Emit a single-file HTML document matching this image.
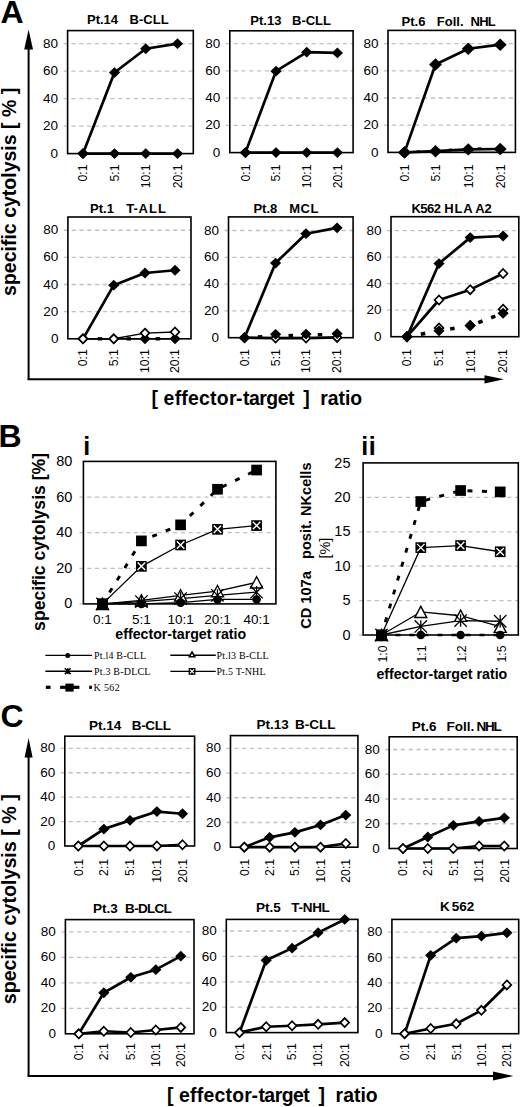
<!DOCTYPE html><html><head><meta charset="utf-8"><style>html,body{margin:0;padding:0;background:#fff;}svg{display:block;}text{white-space:pre;}</style></head><body>
<svg width="520" height="1107" viewBox="0 0 520 1107">
<rect width="520" height="1107" fill="#fff"/>
<text x="0.5" y="22.8" font-size="32" font-weight="bold" text-anchor="start" font-family='"Liberation Sans", sans-serif'>A</text>
<line x1="63.60" y1="126.12" x2="193.3" y2="126.12" stroke="#c0c0c0" stroke-width="1.3" stroke-dasharray="4.2 3.6"/>
<line x1="63.60" y1="98.64" x2="193.3" y2="98.64" stroke="#c0c0c0" stroke-width="1.3" stroke-dasharray="4.2 3.6"/>
<line x1="63.60" y1="71.16" x2="193.3" y2="71.16" stroke="#c0c0c0" stroke-width="1.3" stroke-dasharray="4.2 3.6"/>
<line x1="63.60" y1="43.68" x2="193.3" y2="43.68" stroke="#c0c0c0" stroke-width="1.3" stroke-dasharray="4.2 3.6"/>
<rect x="67.6" y="30.6" width="125.70000000000002" height="123.0" fill="none" stroke="#000" stroke-width="1.6"/>
<text x="58.10" y="157.70" font-size="13.5" font-weight="normal" text-anchor="end" font-family='"Liberation Sans", sans-serif'>0</text>
<text x="58.10" y="130.22" font-size="13.5" font-weight="normal" text-anchor="end" font-family='"Liberation Sans", sans-serif'>20</text>
<text x="58.10" y="102.74" font-size="13.5" font-weight="normal" text-anchor="end" font-family='"Liberation Sans", sans-serif'>40</text>
<text x="58.10" y="75.26" font-size="13.5" font-weight="normal" text-anchor="end" font-family='"Liberation Sans", sans-serif'>60</text>
<text x="58.10" y="47.78" font-size="13.5" font-weight="normal" text-anchor="end" font-family='"Liberation Sans", sans-serif'>80</text>
<polyline points="83.00,153.60 114.50,153.60 145.75,153.60 177.50,153.60" fill="none" stroke="#000" stroke-width="2.7" stroke-linejoin="round"/>
<polyline points="83.00,153.60 114.50,72.53 145.75,48.76 177.50,43.68" fill="none" stroke="#000" stroke-width="2.7" stroke-linejoin="round"/>
<polygon points="83.00,148.20 88.60,153.60 83.00,159.00 77.40,153.60" fill="#000"/>
<polygon points="114.50,148.20 120.10,153.60 114.50,159.00 108.90,153.60" fill="#000"/>
<polygon points="145.75,148.20 151.35,153.60 145.75,159.00 140.15,153.60" fill="#000"/>
<polygon points="177.50,148.20 183.10,153.60 177.50,159.00 171.90,153.60" fill="#000"/>
<polygon points="83.00,148.20 88.60,153.60 83.00,159.00 77.40,153.60" fill="#000"/>
<polygon points="114.50,67.13 120.10,72.53 114.50,77.93 108.90,72.53" fill="#000"/>
<polygon points="145.75,43.36 151.35,48.76 145.75,54.16 140.15,48.76" fill="#000"/>
<polygon points="177.50,38.28 183.10,43.68 177.50,49.08 171.90,43.68" fill="#000"/>
<text x="87.0" y="23.6" font-size="13" font-weight="bold" text-anchor="start" font-family='"Liberation Sans", sans-serif'>Pt.14</text>
<text x="129.6" y="23.6" font-size="13" font-weight="bold" text-anchor="start" font-family='"Liberation Sans", sans-serif'>B-CLL</text>
<text x="87.40" y="164.39999999999998" font-size="12.3" font-weight="normal" text-anchor="end" font-family='"Liberation Sans", sans-serif' transform="rotate(-90 87.40 164.39999999999998)">0:1</text>
<text x="118.90" y="164.39999999999998" font-size="12.3" font-weight="normal" text-anchor="end" font-family='"Liberation Sans", sans-serif' transform="rotate(-90 118.90 164.39999999999998)">5:1</text>
<text x="150.15" y="164.39999999999998" font-size="12.3" font-weight="normal" text-anchor="end" font-family='"Liberation Sans", sans-serif' transform="rotate(-90 150.15 164.39999999999998)">10:1</text>
<text x="181.90" y="164.39999999999998" font-size="12.3" font-weight="normal" text-anchor="end" font-family='"Liberation Sans", sans-serif' transform="rotate(-90 181.90 164.39999999999998)">20:1</text>
<line x1="225.80" y1="125.36" x2="353.1" y2="125.36" stroke="#c0c0c0" stroke-width="1.3" stroke-dasharray="4.2 3.6"/>
<line x1="225.80" y1="98.12" x2="353.1" y2="98.12" stroke="#c0c0c0" stroke-width="1.3" stroke-dasharray="4.2 3.6"/>
<line x1="225.80" y1="70.88" x2="353.1" y2="70.88" stroke="#c0c0c0" stroke-width="1.3" stroke-dasharray="4.2 3.6"/>
<line x1="225.80" y1="43.64" x2="353.1" y2="43.64" stroke="#c0c0c0" stroke-width="1.3" stroke-dasharray="4.2 3.6"/>
<rect x="229.8" y="30.8" width="123.30000000000001" height="121.8" fill="none" stroke="#000" stroke-width="1.6"/>
<text x="220.30" y="156.70" font-size="13.5" font-weight="normal" text-anchor="end" font-family='"Liberation Sans", sans-serif'>0</text>
<text x="220.30" y="129.46" font-size="13.5" font-weight="normal" text-anchor="end" font-family='"Liberation Sans", sans-serif'>20</text>
<text x="220.30" y="102.22" font-size="13.5" font-weight="normal" text-anchor="end" font-family='"Liberation Sans", sans-serif'>40</text>
<text x="220.30" y="74.98" font-size="13.5" font-weight="normal" text-anchor="end" font-family='"Liberation Sans", sans-serif'>60</text>
<text x="220.30" y="47.74" font-size="13.5" font-weight="normal" text-anchor="end" font-family='"Liberation Sans", sans-serif'>80</text>
<polyline points="245.40,152.60 276.00,152.60 306.75,152.60 337.40,152.60" fill="none" stroke="#000" stroke-width="2.7" stroke-linejoin="round"/>
<polyline points="245.40,152.60 276.00,71.15 306.75,52.22 337.40,52.90" fill="none" stroke="#000" stroke-width="2.7" stroke-linejoin="round"/>
<polygon points="245.40,147.20 251.00,152.60 245.40,158.00 239.80,152.60" fill="#000"/>
<polygon points="276.00,147.20 281.60,152.60 276.00,158.00 270.40,152.60" fill="#000"/>
<polygon points="306.75,147.20 312.35,152.60 306.75,158.00 301.15,152.60" fill="#000"/>
<polygon points="337.40,147.20 343.00,152.60 337.40,158.00 331.80,152.60" fill="#000"/>
<polygon points="245.40,147.20 251.00,152.60 245.40,158.00 239.80,152.60" fill="#000"/>
<polygon points="276.00,65.75 281.60,71.15 276.00,76.55 270.40,71.15" fill="#000"/>
<polygon points="306.75,46.82 312.35,52.22 306.75,57.62 301.15,52.22" fill="#000"/>
<polygon points="337.40,47.50 343.00,52.90 337.40,58.30 331.80,52.90" fill="#000"/>
<text x="250.3" y="25.0" font-size="13" font-weight="bold" text-anchor="start" font-family='"Liberation Sans", sans-serif'>Pt.13</text>
<text x="292.0" y="25.0" font-size="13" font-weight="bold" text-anchor="start" font-family='"Liberation Sans", sans-serif'>B-CLL</text>
<text x="249.80" y="164.39999999999998" font-size="12.3" font-weight="normal" text-anchor="end" font-family='"Liberation Sans", sans-serif' transform="rotate(-90 249.80 164.39999999999998)">0:1</text>
<text x="280.40" y="164.39999999999998" font-size="12.3" font-weight="normal" text-anchor="end" font-family='"Liberation Sans", sans-serif' transform="rotate(-90 280.40 164.39999999999998)">5:1</text>
<text x="311.15" y="164.39999999999998" font-size="12.3" font-weight="normal" text-anchor="end" font-family='"Liberation Sans", sans-serif' transform="rotate(-90 311.15 164.39999999999998)">10:1</text>
<text x="341.80" y="164.39999999999998" font-size="12.3" font-weight="normal" text-anchor="end" font-family='"Liberation Sans", sans-serif' transform="rotate(-90 341.80 164.39999999999998)">20:1</text>
<line x1="384.00" y1="125.20" x2="515.4" y2="125.20" stroke="#c0c0c0" stroke-width="1.3" stroke-dasharray="4.2 3.6"/>
<line x1="384.00" y1="98.00" x2="515.4" y2="98.00" stroke="#c0c0c0" stroke-width="1.3" stroke-dasharray="4.2 3.6"/>
<line x1="384.00" y1="70.80" x2="515.4" y2="70.80" stroke="#c0c0c0" stroke-width="1.3" stroke-dasharray="4.2 3.6"/>
<line x1="384.00" y1="43.60" x2="515.4" y2="43.60" stroke="#c0c0c0" stroke-width="1.3" stroke-dasharray="4.2 3.6"/>
<rect x="388" y="30.4" width="127.39999999999998" height="122.0" fill="none" stroke="#000" stroke-width="1.6"/>
<text x="378.50" y="156.50" font-size="13.5" font-weight="normal" text-anchor="end" font-family='"Liberation Sans", sans-serif'>0</text>
<text x="378.50" y="129.30" font-size="13.5" font-weight="normal" text-anchor="end" font-family='"Liberation Sans", sans-serif'>20</text>
<text x="378.50" y="102.10" font-size="13.5" font-weight="normal" text-anchor="end" font-family='"Liberation Sans", sans-serif'>40</text>
<text x="378.50" y="74.90" font-size="13.5" font-weight="normal" text-anchor="end" font-family='"Liberation Sans", sans-serif'>60</text>
<text x="378.50" y="47.70" font-size="13.5" font-weight="normal" text-anchor="end" font-family='"Liberation Sans", sans-serif'>80</text>
<polyline points="404.50,152.40 435.50,152.40 468.25,152.40 500.20,152.40" fill="none" stroke="#000" stroke-width="1.4" stroke-linejoin="round"/>
<line x1="416.70" y1="151.70" x2="420.20" y2="151.50" stroke="#000" stroke-width="2.5"/>
<line x1="448.49" y1="149.93" x2="451.98" y2="149.74" stroke="#000" stroke-width="2.5"/>
<line x1="477.68" y1="148.66" x2="481.18" y2="148.59" stroke="#000" stroke-width="2.5"/>
<polyline points="404.50,152.40 435.50,151.18 468.25,149.41 500.20,149.00" fill="none" stroke="#000" stroke-width="2.7" stroke-linejoin="round"/>
<polyline points="404.50,152.40 435.50,64.54 468.25,48.77 500.20,44.69" fill="none" stroke="#000" stroke-width="2.7" stroke-linejoin="round"/>
<polygon points="404.50,146.19 410.94,152.40 404.50,158.61 398.06,152.40" fill="#000"/>
<polygon points="435.50,144.97 441.94,151.18 435.50,157.39 429.06,151.18" fill="#000"/>
<polygon points="468.25,143.20 474.69,149.41 468.25,155.62 461.81,149.41" fill="#000"/>
<polygon points="500.20,142.79 506.64,149.00 500.20,155.21 493.76,149.00" fill="#000"/>
<polygon points="404.50,146.19 410.94,152.40 404.50,158.61 398.06,152.40" fill="#000"/>
<polygon points="435.50,58.33 441.94,64.54 435.50,70.75 429.06,64.54" fill="#000"/>
<polygon points="468.25,42.56 474.69,48.77 468.25,54.98 461.81,48.77" fill="#000"/>
<polygon points="500.20,38.48 506.64,44.69 500.20,50.90 493.76,44.69" fill="#000"/>
<text x="401.6" y="25.5" font-size="13" font-weight="bold" text-anchor="start" font-family='"Liberation Sans", sans-serif'>Pt.6</text>
<text x="436.8" y="25.5" font-size="13" font-weight="bold" text-anchor="start" font-family='"Liberation Sans", sans-serif'>Foll.</text>
<text x="470.6" y="25.5" font-size="13" font-weight="bold" text-anchor="start" font-family='"Liberation Sans", sans-serif' letter-spacing="-0.8">NHL</text>
<text x="408.90" y="164.39999999999998" font-size="12.3" font-weight="normal" text-anchor="end" font-family='"Liberation Sans", sans-serif' transform="rotate(-90 408.90 164.39999999999998)">0:1</text>
<text x="439.90" y="164.39999999999998" font-size="12.3" font-weight="normal" text-anchor="end" font-family='"Liberation Sans", sans-serif' transform="rotate(-90 439.90 164.39999999999998)">5:1</text>
<text x="472.65" y="164.39999999999998" font-size="12.3" font-weight="normal" text-anchor="end" font-family='"Liberation Sans", sans-serif' transform="rotate(-90 472.65 164.39999999999998)">10:1</text>
<text x="504.60" y="164.39999999999998" font-size="12.3" font-weight="normal" text-anchor="end" font-family='"Liberation Sans", sans-serif' transform="rotate(-90 504.60 164.39999999999998)">20:1</text>
<line x1="63.90" y1="311.66" x2="191" y2="311.66" stroke="#c0c0c0" stroke-width="1.3" stroke-dasharray="4.2 3.6"/>
<line x1="63.90" y1="284.52" x2="191" y2="284.52" stroke="#c0c0c0" stroke-width="1.3" stroke-dasharray="4.2 3.6"/>
<line x1="63.90" y1="257.38" x2="191" y2="257.38" stroke="#c0c0c0" stroke-width="1.3" stroke-dasharray="4.2 3.6"/>
<line x1="63.90" y1="230.24" x2="191" y2="230.24" stroke="#c0c0c0" stroke-width="1.3" stroke-dasharray="4.2 3.6"/>
<rect x="67.9" y="217" width="123.1" height="121.80000000000001" fill="none" stroke="#000" stroke-width="1.6"/>
<text x="58.40" y="342.90" font-size="13.5" font-weight="normal" text-anchor="end" font-family='"Liberation Sans", sans-serif'>0</text>
<text x="58.40" y="315.76" font-size="13.5" font-weight="normal" text-anchor="end" font-family='"Liberation Sans", sans-serif'>20</text>
<text x="58.40" y="288.62" font-size="13.5" font-weight="normal" text-anchor="end" font-family='"Liberation Sans", sans-serif'>40</text>
<text x="58.40" y="261.48" font-size="13.5" font-weight="normal" text-anchor="end" font-family='"Liberation Sans", sans-serif'>60</text>
<text x="58.40" y="234.34" font-size="13.5" font-weight="normal" text-anchor="end" font-family='"Liberation Sans", sans-serif'>80</text>
<polyline points="83.00,338.80 113.75,338.80 145.00,338.80 175.00,338.80" fill="none" stroke="#000" stroke-width="1.4" stroke-linejoin="round"/>
<line x1="97.66" y1="338.80" x2="102.16" y2="338.80" stroke="#000" stroke-width="3.4"/>
<line x1="126.50" y1="338.80" x2="131.00" y2="338.80" stroke="#000" stroke-width="3.4"/>
<line x1="155.65" y1="338.80" x2="160.15" y2="338.80" stroke="#000" stroke-width="3.4"/>
<polyline points="83.00,338.80 113.75,285.20 145.00,272.99 175.00,270.27" fill="none" stroke="#000" stroke-width="2.7" stroke-linejoin="round"/>
<polyline points="83.00,338.80 113.75,338.80 145.00,333.10 175.00,332.01" fill="none" stroke="#000" stroke-width="1.4" stroke-linejoin="round"/>
<polygon points="83.00,333.40 88.60,338.80 83.00,344.20 77.40,338.80" fill="#000"/>
<polygon points="113.75,333.40 119.35,338.80 113.75,344.20 108.15,338.80" fill="#000"/>
<polygon points="145.00,333.40 150.60,338.80 145.00,344.20 139.40,338.80" fill="#000"/>
<polygon points="175.00,333.40 180.60,338.80 175.00,344.20 169.40,338.80" fill="#000"/>
<polygon points="83.00,333.40 88.60,338.80 83.00,344.20 77.40,338.80" fill="#000"/>
<polygon points="113.75,279.80 119.35,285.20 113.75,290.60 108.15,285.20" fill="#000"/>
<polygon points="145.00,267.59 150.60,272.99 145.00,278.39 139.40,272.99" fill="#000"/>
<polygon points="175.00,264.87 180.60,270.27 175.00,275.67 169.40,270.27" fill="#000"/>
<polygon points="83.00,334.30 87.40,338.80 83.00,343.30 78.60,338.80" fill="#fff" stroke="#000" stroke-width="1.7"/>
<polygon points="113.75,334.30 118.15,338.80 113.75,343.30 109.35,338.80" fill="#fff" stroke="#000" stroke-width="1.7"/>
<polygon points="145.00,328.60 149.40,333.10 145.00,337.60 140.60,333.10" fill="#fff" stroke="#000" stroke-width="1.7"/>
<polygon points="175.00,327.51 179.40,332.01 175.00,336.51 170.60,332.01" fill="#fff" stroke="#000" stroke-width="1.7"/>
<text x="90.1" y="213" font-size="13" font-weight="bold" text-anchor="start" font-family='"Liberation Sans", sans-serif'>Pt.1</text>
<text x="126.3" y="213" font-size="13" font-weight="bold" text-anchor="start" font-family='"Liberation Sans", sans-serif'>T-</text>
<text x="138.4" y="213" font-size="13" font-weight="bold" text-anchor="start" font-family='"Liberation Sans", sans-serif' letter-spacing="1.2">ALL</text>
<text x="87.40" y="349.09999999999997" font-size="12.3" font-weight="normal" text-anchor="end" font-family='"Liberation Sans", sans-serif' transform="rotate(-90 87.40 349.09999999999997)">0:1</text>
<text x="118.15" y="349.09999999999997" font-size="12.3" font-weight="normal" text-anchor="end" font-family='"Liberation Sans", sans-serif' transform="rotate(-90 118.15 349.09999999999997)">5:1</text>
<text x="149.40" y="349.09999999999997" font-size="12.3" font-weight="normal" text-anchor="end" font-family='"Liberation Sans", sans-serif' transform="rotate(-90 149.40 349.09999999999997)">10:1</text>
<text x="179.40" y="349.09999999999997" font-size="12.3" font-weight="normal" text-anchor="end" font-family='"Liberation Sans", sans-serif' transform="rotate(-90 179.40 349.09999999999997)">20:1</text>
<line x1="224.50" y1="310.90" x2="353.1" y2="310.90" stroke="#c0c0c0" stroke-width="1.3" stroke-dasharray="4.2 3.6"/>
<line x1="224.50" y1="284.10" x2="353.1" y2="284.10" stroke="#c0c0c0" stroke-width="1.3" stroke-dasharray="4.2 3.6"/>
<line x1="224.50" y1="257.30" x2="353.1" y2="257.30" stroke="#c0c0c0" stroke-width="1.3" stroke-dasharray="4.2 3.6"/>
<line x1="224.50" y1="230.50" x2="353.1" y2="230.50" stroke="#c0c0c0" stroke-width="1.3" stroke-dasharray="4.2 3.6"/>
<rect x="228.5" y="216.9" width="124.60000000000002" height="120.79999999999998" fill="none" stroke="#000" stroke-width="1.6"/>
<text x="219.00" y="341.80" font-size="13.5" font-weight="normal" text-anchor="end" font-family='"Liberation Sans", sans-serif'>0</text>
<text x="219.00" y="315.00" font-size="13.5" font-weight="normal" text-anchor="end" font-family='"Liberation Sans", sans-serif'>20</text>
<text x="219.00" y="288.20" font-size="13.5" font-weight="normal" text-anchor="end" font-family='"Liberation Sans", sans-serif'>40</text>
<text x="219.00" y="261.40" font-size="13.5" font-weight="normal" text-anchor="end" font-family='"Liberation Sans", sans-serif'>60</text>
<text x="219.00" y="234.60" font-size="13.5" font-weight="normal" text-anchor="end" font-family='"Liberation Sans", sans-serif'>80</text>
<polyline points="244.50,337.70 275.60,338.10 306.00,338.10 337.10,337.43" fill="none" stroke="#000" stroke-width="2.7" stroke-linejoin="round"/>
<line x1="257.80" y1="337.01" x2="262.30" y2="336.78" stroke="#000" stroke-width="3.4"/>
<line x1="288.55" y1="335.64" x2="293.05" y2="335.48" stroke="#000" stroke-width="3.4"/>
<line x1="317.75" y1="334.72" x2="322.24" y2="334.60" stroke="#000" stroke-width="3.4"/>
<polyline points="244.50,337.70 275.60,263.06 306.00,233.72 337.10,227.82" fill="none" stroke="#000" stroke-width="2.7" stroke-linejoin="round"/>
<polygon points="244.50,333.20 248.90,337.70 244.50,342.20 240.10,337.70" fill="#fff" stroke="#000" stroke-width="1.7"/>
<polygon points="275.60,333.60 280.00,338.10 275.60,342.60 271.20,338.10" fill="#fff" stroke="#000" stroke-width="1.7"/>
<polygon points="306.00,333.60 310.40,338.10 306.00,342.60 301.60,338.10" fill="#fff" stroke="#000" stroke-width="1.7"/>
<polygon points="337.10,332.93 341.50,337.43 337.10,341.93 332.70,337.43" fill="#fff" stroke="#000" stroke-width="1.7"/>
<polygon points="244.50,332.30 250.10,337.70 244.50,343.10 238.90,337.70" fill="#000"/>
<polygon points="275.60,328.95 281.20,334.35 275.60,339.75 270.00,334.35" fill="#000"/>
<polygon points="306.00,328.68 311.60,334.08 306.00,339.48 300.40,334.08" fill="#000"/>
<polygon points="337.10,328.28 342.70,333.68 337.10,339.08 331.50,333.68" fill="#000"/>
<polygon points="244.50,332.30 250.10,337.70 244.50,343.10 238.90,337.70" fill="#000"/>
<polygon points="275.60,257.66 281.20,263.06 275.60,268.46 270.00,263.06" fill="#000"/>
<polygon points="306.00,228.32 311.60,233.72 306.00,239.12 300.40,233.72" fill="#000"/>
<polygon points="337.10,222.42 342.70,227.82 337.10,233.22 331.50,227.82" fill="#000"/>
<text x="253.4" y="213" font-size="13" font-weight="bold" text-anchor="start" font-family='"Liberation Sans", sans-serif'>Pt.8</text>
<text x="289.2" y="213" font-size="13" font-weight="bold" text-anchor="start" font-family='"Liberation Sans", sans-serif' letter-spacing="0.5">MCL</text>
<text x="248.90" y="349.09999999999997" font-size="12.3" font-weight="normal" text-anchor="end" font-family='"Liberation Sans", sans-serif' transform="rotate(-90 248.90 349.09999999999997)">0:1</text>
<text x="280.00" y="349.09999999999997" font-size="12.3" font-weight="normal" text-anchor="end" font-family='"Liberation Sans", sans-serif' transform="rotate(-90 280.00 349.09999999999997)">5:1</text>
<text x="310.40" y="349.09999999999997" font-size="12.3" font-weight="normal" text-anchor="end" font-family='"Liberation Sans", sans-serif' transform="rotate(-90 310.40 349.09999999999997)">10:1</text>
<text x="341.50" y="349.09999999999997" font-size="12.3" font-weight="normal" text-anchor="end" font-family='"Liberation Sans", sans-serif' transform="rotate(-90 341.50 349.09999999999997)">20:1</text>
<line x1="387.00" y1="310.20" x2="518.8" y2="310.20" stroke="#c0c0c0" stroke-width="1.3" stroke-dasharray="4.2 3.6"/>
<line x1="387.00" y1="283.70" x2="518.8" y2="283.70" stroke="#c0c0c0" stroke-width="1.3" stroke-dasharray="4.2 3.6"/>
<line x1="387.00" y1="257.20" x2="518.8" y2="257.20" stroke="#c0c0c0" stroke-width="1.3" stroke-dasharray="4.2 3.6"/>
<line x1="387.00" y1="230.70" x2="518.8" y2="230.70" stroke="#c0c0c0" stroke-width="1.3" stroke-dasharray="4.2 3.6"/>
<rect x="391" y="216.7" width="127.79999999999995" height="120.0" fill="none" stroke="#000" stroke-width="1.6"/>
<text x="381.50" y="340.80" font-size="13.5" font-weight="normal" text-anchor="end" font-family='"Liberation Sans", sans-serif'>0</text>
<text x="381.50" y="314.30" font-size="13.5" font-weight="normal" text-anchor="end" font-family='"Liberation Sans", sans-serif'>20</text>
<text x="381.50" y="287.80" font-size="13.5" font-weight="normal" text-anchor="end" font-family='"Liberation Sans", sans-serif'>40</text>
<text x="381.50" y="261.30" font-size="13.5" font-weight="normal" text-anchor="end" font-family='"Liberation Sans", sans-serif'>60</text>
<text x="381.50" y="234.80" font-size="13.5" font-weight="normal" text-anchor="end" font-family='"Liberation Sans", sans-serif'>80</text>
<line x1="420.79" y1="334.19" x2="425.21" y2="333.38" stroke="#000" stroke-width="3.6"/>
<line x1="450.20" y1="329.02" x2="454.64" y2="328.28" stroke="#000" stroke-width="3.6"/>
<line x1="478.29" y1="322.64" x2="482.50" y2="321.04" stroke="#000" stroke-width="3.6"/>
<line x1="491.13" y1="317.78" x2="495.33" y2="316.19" stroke="#000" stroke-width="3.6"/>
<polyline points="407.00,336.70 439.00,300.00 470.20,289.66 503.10,273.50" fill="none" stroke="#000" stroke-width="2.7" stroke-linejoin="round"/>
<polyline points="407.00,336.70 439.00,263.56 470.20,237.59 503.10,236.00" fill="none" stroke="#000" stroke-width="2.7" stroke-linejoin="round"/>
<polygon points="407.00,332.20 411.40,336.70 407.00,341.20 402.60,336.70" fill="#fff" stroke="#000" stroke-width="1.7"/>
<polygon points="439.00,323.45 443.40,327.95 439.00,332.45 434.60,327.95" fill="#fff" stroke="#000" stroke-width="1.7"/>
<polygon points="470.20,320.94 474.60,325.44 470.20,329.94 465.80,325.44" fill="#fff" stroke="#000" stroke-width="1.7"/>
<polygon points="503.10,304.64 507.50,309.14 503.10,313.64 498.70,309.14" fill="#fff" stroke="#000" stroke-width="1.7"/>
<polygon points="407.00,331.30 412.60,336.70 407.00,342.10 401.40,336.70" fill="#000"/>
<polygon points="439.00,325.47 444.60,330.87 439.00,336.27 433.40,330.87" fill="#000"/>
<polygon points="470.20,320.30 475.80,325.70 470.20,331.10 464.60,325.70" fill="#000"/>
<polygon points="503.10,307.85 508.70,313.25 503.10,318.65 497.50,313.25" fill="#000"/>
<polygon points="407.00,332.20 411.40,336.70 407.00,341.20 402.60,336.70" fill="#fff" stroke="#000" stroke-width="1.7"/>
<polygon points="439.00,295.50 443.40,300.00 439.00,304.50 434.60,300.00" fill="#fff" stroke="#000" stroke-width="1.7"/>
<polygon points="470.20,285.16 474.60,289.66 470.20,294.16 465.80,289.66" fill="#fff" stroke="#000" stroke-width="1.7"/>
<polygon points="503.10,269.00 507.50,273.50 503.10,278.00 498.70,273.50" fill="#fff" stroke="#000" stroke-width="1.7"/>
<polygon points="407.00,331.30 412.60,336.70 407.00,342.10 401.40,336.70" fill="#000"/>
<polygon points="439.00,258.16 444.60,263.56 439.00,268.96 433.40,263.56" fill="#000"/>
<polygon points="470.20,232.19 475.80,237.59 470.20,242.99 464.60,237.59" fill="#000"/>
<polygon points="503.10,230.60 508.70,236.00 503.10,241.40 497.50,236.00" fill="#000"/>
<text x="411.4" y="213" font-size="13" font-weight="bold" text-anchor="start" font-family='"Liberation Sans", sans-serif' letter-spacing="-0.5">K562</text>
<text x="444.3" y="213" font-size="13" font-weight="bold" text-anchor="start" font-family='"Liberation Sans", sans-serif' letter-spacing="0.8">HLA</text>
<text x="475.2" y="213" font-size="13" font-weight="bold" text-anchor="start" font-family='"Liberation Sans", sans-serif'>A2</text>
<text x="411.40" y="349.09999999999997" font-size="12.3" font-weight="normal" text-anchor="end" font-family='"Liberation Sans", sans-serif' transform="rotate(-90 411.40 349.09999999999997)">0:1</text>
<text x="443.40" y="349.09999999999997" font-size="12.3" font-weight="normal" text-anchor="end" font-family='"Liberation Sans", sans-serif' transform="rotate(-90 443.40 349.09999999999997)">5:1</text>
<text x="474.60" y="349.09999999999997" font-size="12.3" font-weight="normal" text-anchor="end" font-family='"Liberation Sans", sans-serif' transform="rotate(-90 474.60 349.09999999999997)">10:1</text>
<text x="507.50" y="349.09999999999997" font-size="12.3" font-weight="normal" text-anchor="end" font-family='"Liberation Sans", sans-serif' transform="rotate(-90 507.50 349.09999999999997)">20:1</text>
<line x1="28.6" y1="45" x2="28.6" y2="379.5" stroke="#000" stroke-width="2"/>
<polygon points="28.6,29.5 24.2,49.5 33,49.5" fill="#000"/>
<line x1="27.6" y1="379.3" x2="490" y2="379.3" stroke="#000" stroke-width="2"/>
<polygon points="504,379.3 484.5,375.2 484.5,383.4" fill="#000"/>
<text x="16.2" y="295.9" font-size="19.5" font-weight="bold" text-anchor="start" font-family='"Liberation Sans", sans-serif' transform="rotate(-90 16.2 295.9)">specific cytolysis [ % ]</text>
<text x="151.60" y="405.0" font-size="19.4" font-weight="bold" text-anchor="start" font-family='"Liberation Sans", sans-serif'>[</text>
<text x="163.60" y="405.0" font-size="19.4" font-weight="bold" text-anchor="start" font-family='"Liberation Sans", sans-serif' letter-spacing="0.25">effector</text>
<text x="236.00" y="405.0" font-size="19.4" font-weight="bold" text-anchor="start" font-family='"Liberation Sans", sans-serif'>-</text>
<text x="243.00" y="405.0" font-size="19.4" font-weight="bold" text-anchor="start" font-family='"Liberation Sans", sans-serif' letter-spacing="-0.5">target</text>
<text x="303.20" y="405.0" font-size="19.4" font-weight="bold" text-anchor="start" font-family='"Liberation Sans", sans-serif'>]</text>
<text x="320.20" y="405.0" font-size="19.4" font-weight="bold" text-anchor="start" font-family='"Liberation Sans", sans-serif'>ratio</text>
<text x="-1.5" y="447.1" font-size="32" font-weight="bold" text-anchor="start" font-family='"Liberation Sans", sans-serif'>B</text>
<text x="83.2" y="454.8" font-size="25" font-weight="bold" text-anchor="start" font-family='"Liberation Sans", sans-serif'>i</text>
<text x="361.3" y="454.8" font-size="25" font-weight="bold" text-anchor="start" font-family='"Liberation Sans", sans-serif' letter-spacing="0.6">ii</text>
<line x1="79.40" y1="568.30" x2="275.9" y2="568.30" stroke="#c0c0c0" stroke-width="1.3" stroke-dasharray="4.2 3.6"/>
<line x1="79.40" y1="532.70" x2="275.9" y2="532.70" stroke="#c0c0c0" stroke-width="1.3" stroke-dasharray="4.2 3.6"/>
<line x1="79.40" y1="497.10" x2="275.9" y2="497.10" stroke="#c0c0c0" stroke-width="1.3" stroke-dasharray="4.2 3.6"/>
<line x1="79.4" y1="603.90" x2="83.4" y2="603.90" stroke="#c0c0c0" stroke-width="1.2"/>
<rect x="83.4" y="461.4" width="192.49999999999997" height="142.5" fill="none" stroke="#000" stroke-width="1.6"/>
<text x="72.4" y="608.40" font-size="14.5" font-weight="normal" text-anchor="end" font-family='"Liberation Sans", sans-serif'>0</text>
<text x="72.4" y="572.80" font-size="14.5" font-weight="normal" text-anchor="end" font-family='"Liberation Sans", sans-serif'>20</text>
<text x="72.4" y="537.20" font-size="14.5" font-weight="normal" text-anchor="end" font-family='"Liberation Sans", sans-serif'>40</text>
<text x="72.4" y="501.60" font-size="14.5" font-weight="normal" text-anchor="end" font-family='"Liberation Sans", sans-serif'>60</text>
<text x="72.4" y="466.00" font-size="14.5" font-weight="normal" text-anchor="end" font-family='"Liberation Sans", sans-serif'>80</text>
<polyline points="102.50,603.90 141.40,600.34 180.60,595.36 217.50,591.08 256.60,582.36" fill="none" stroke="#000" stroke-width="1.3" stroke-linejoin="round"/>
<polyline points="102.50,603.90 141.40,603.90 180.60,602.65 217.50,599.45 256.60,599.45" fill="none" stroke="#000" stroke-width="1.3" stroke-linejoin="round"/>
<polyline points="102.50,603.90 141.40,601.59 180.60,598.56 217.50,595.36 256.60,592.15" fill="none" stroke="#000" stroke-width="1.3" stroke-linejoin="round"/>
<polyline points="102.50,603.90 141.40,566.34 180.60,544.98 217.50,529.32 256.60,525.58" fill="none" stroke="#000" stroke-width="1.3" stroke-linejoin="round"/>
<polyline points="102.50,603.90 141.40,540.89 180.60,524.87 217.50,489.27 256.60,470.04" fill="none" stroke="#000" stroke-width="2.9" stroke-linejoin="round" stroke-dasharray="5 9.5" stroke-dashoffset="1.2"/>
<polygon points="102.50,598.30 108.50,609.50 96.50,609.50" fill="#fff" stroke="#000" stroke-width="1.40" stroke-linejoin="miter"/>
<polygon points="141.40,594.74 147.40,605.94 135.40,605.94" fill="#fff" stroke="#000" stroke-width="1.40" stroke-linejoin="miter"/>
<polygon points="180.60,589.76 186.60,600.96 174.60,600.96" fill="#fff" stroke="#000" stroke-width="1.40" stroke-linejoin="miter"/>
<polygon points="217.50,585.48 223.50,596.68 211.50,596.68" fill="#fff" stroke="#000" stroke-width="1.40" stroke-linejoin="miter"/>
<polygon points="256.60,576.76 262.60,587.96 250.60,587.96" fill="#fff" stroke="#000" stroke-width="1.40" stroke-linejoin="miter"/>
<circle cx="102.50" cy="603.90" r="4.30" fill="#000"/>
<circle cx="141.40" cy="603.90" r="4.30" fill="#000"/>
<circle cx="180.60" cy="602.65" r="4.30" fill="#000"/>
<circle cx="217.50" cy="599.45" r="4.30" fill="#000"/>
<circle cx="256.60" cy="599.45" r="4.30" fill="#000"/>
<path d="M96.30,597.70L108.70,610.10M108.70,597.70L96.30,610.10M102.50,597.70L102.50,610.10" stroke="#000" stroke-width="1.30"/>
<path d="M135.20,595.39L147.60,607.79M147.60,595.39L135.20,607.79M141.40,595.39L141.40,607.79" stroke="#000" stroke-width="1.30"/>
<path d="M174.40,592.36L186.80,604.76M186.80,592.36L174.40,604.76M180.60,592.36L180.60,604.76" stroke="#000" stroke-width="1.30"/>
<path d="M211.30,589.16L223.70,601.56M223.70,589.16L211.30,601.56M217.50,589.16L217.50,601.56" stroke="#000" stroke-width="1.30"/>
<path d="M250.40,585.95L262.80,598.35M262.80,585.95L250.40,598.35M256.60,585.95L256.60,598.35" stroke="#000" stroke-width="1.30"/>
<rect x="97.15" y="598.55" width="10.70" height="10.70" fill="#000"/><path d="M98.75,600.15L106.25,607.65M106.25,600.15L98.75,607.65" stroke="#fff" stroke-width="1.40"/>
<rect x="136.05" y="560.99" width="10.70" height="10.70" fill="#000"/><path d="M137.65,562.59L145.15,570.09M145.15,562.59L137.65,570.09" stroke="#fff" stroke-width="1.40"/>
<rect x="175.25" y="539.63" width="10.70" height="10.70" fill="#000"/><path d="M176.85,541.23L184.35,548.73M184.35,541.23L176.85,548.73" stroke="#fff" stroke-width="1.40"/>
<rect x="212.15" y="523.97" width="10.70" height="10.70" fill="#000"/><path d="M213.75,525.57L221.25,533.07M221.25,525.57L213.75,533.07" stroke="#fff" stroke-width="1.40"/>
<rect x="251.25" y="520.23" width="10.70" height="10.70" fill="#000"/><path d="M252.85,521.83L260.35,529.33M260.35,521.83L252.85,529.33" stroke="#fff" stroke-width="1.40"/>
<rect x="97.15" y="598.55" width="10.70" height="10.70" fill="#000"/>
<rect x="136.05" y="535.54" width="10.70" height="10.70" fill="#000"/>
<rect x="175.25" y="519.52" width="10.70" height="10.70" fill="#000"/>
<rect x="212.15" y="483.92" width="10.70" height="10.70" fill="#000"/>
<rect x="251.25" y="464.69" width="10.70" height="10.70" fill="#000"/>
<text x="102.5" y="623.9" font-size="13.5" font-weight="normal" text-anchor="middle" font-family='"Liberation Sans", sans-serif'>0:1</text>
<text x="141.4" y="623.9" font-size="13.5" font-weight="normal" text-anchor="middle" font-family='"Liberation Sans", sans-serif'>5:1</text>
<text x="180.6" y="623.9" font-size="13.5" font-weight="normal" text-anchor="middle" font-family='"Liberation Sans", sans-serif'>10:1</text>
<text x="217.5" y="623.9" font-size="13.5" font-weight="normal" text-anchor="middle" font-family='"Liberation Sans", sans-serif'>20:1</text>
<text x="256.6" y="623.9" font-size="13.5" font-weight="normal" text-anchor="middle" font-family='"Liberation Sans", sans-serif'>40:1</text>
<text x="115.3" y="638.7" font-size="14.2" font-weight="bold" text-anchor="start" font-family='"Liberation Sans", sans-serif'>effector-target ratio</text>
<text x="44.6" y="630.9" font-size="17.6" font-weight="bold" text-anchor="start" font-family='"Liberation Sans", sans-serif' transform="rotate(-90 44.6 630.9)">specific cytolysis [%]</text>
<line x1="359.10" y1="600.60" x2="518.3" y2="600.60" stroke="#c0c0c0" stroke-width="1.3" stroke-dasharray="4.2 3.6"/>
<line x1="359.10" y1="566.20" x2="518.3" y2="566.20" stroke="#c0c0c0" stroke-width="1.3" stroke-dasharray="4.2 3.6"/>
<line x1="359.10" y1="531.80" x2="518.3" y2="531.80" stroke="#c0c0c0" stroke-width="1.3" stroke-dasharray="4.2 3.6"/>
<line x1="359.10" y1="497.40" x2="518.3" y2="497.40" stroke="#c0c0c0" stroke-width="1.3" stroke-dasharray="4.2 3.6"/>
<line x1="359.1" y1="635.00" x2="363.1" y2="635.00" stroke="#c0c0c0" stroke-width="1.2"/>
<rect x="363.1" y="462.9" width="155.19999999999993" height="172.10000000000002" fill="none" stroke="#000" stroke-width="1.6"/>
<text x="350.5" y="639.50" font-size="14.5" font-weight="normal" text-anchor="end" font-family='"Liberation Sans", sans-serif'>0</text>
<text x="350.5" y="605.10" font-size="14.5" font-weight="normal" text-anchor="end" font-family='"Liberation Sans", sans-serif'>5</text>
<text x="350.5" y="570.70" font-size="14.5" font-weight="normal" text-anchor="end" font-family='"Liberation Sans", sans-serif'>10</text>
<text x="350.5" y="536.30" font-size="14.5" font-weight="normal" text-anchor="end" font-family='"Liberation Sans", sans-serif'>15</text>
<text x="350.5" y="501.90" font-size="14.5" font-weight="normal" text-anchor="end" font-family='"Liberation Sans", sans-serif'>20</text>
<text x="350.5" y="467.50" font-size="14.5" font-weight="normal" text-anchor="end" font-family='"Liberation Sans", sans-serif'>25</text>
<polyline points="381.50,635.00 420.80,611.95 460.60,615.74 500.20,626.74" fill="none" stroke="#000" stroke-width="1.3" stroke-linejoin="round"/>
<polyline points="381.50,635.00 420.80,635.00 460.60,635.00 500.20,635.00" fill="none" stroke="#000" stroke-width="2.7" stroke-linejoin="round" stroke-dasharray="5 9"/>
<polyline points="381.50,635.00 420.80,626.40 460.60,620.55 500.20,621.24" fill="none" stroke="#000" stroke-width="1.3" stroke-linejoin="round"/>
<polyline points="381.50,635.00 420.80,547.62 460.60,545.56 500.20,551.75" fill="none" stroke="#000" stroke-width="1.3" stroke-linejoin="round"/>
<polyline points="381.50,635.00 420.80,501.53 460.60,490.52 500.20,491.90" fill="none" stroke="#000" stroke-width="2.9" stroke-linejoin="round" stroke-dasharray="5 9.5" stroke-dashoffset="1.2"/>
<polygon points="381.50,629.40 387.50,640.60 375.50,640.60" fill="#fff" stroke="#000" stroke-width="1.40" stroke-linejoin="miter"/>
<polygon points="420.80,606.35 426.80,617.55 414.80,617.55" fill="#fff" stroke="#000" stroke-width="1.40" stroke-linejoin="miter"/>
<polygon points="460.60,610.14 466.60,621.34 454.60,621.34" fill="#fff" stroke="#000" stroke-width="1.40" stroke-linejoin="miter"/>
<polygon points="500.20,621.14 506.20,632.34 494.20,632.34" fill="#fff" stroke="#000" stroke-width="1.40" stroke-linejoin="miter"/>
<circle cx="381.50" cy="635.00" r="4.30" fill="#000"/>
<circle cx="420.80" cy="635.00" r="4.30" fill="#000"/>
<circle cx="460.60" cy="635.00" r="4.30" fill="#000"/>
<circle cx="500.20" cy="635.00" r="4.30" fill="#000"/>
<path d="M375.30,628.80L387.70,641.20M387.70,628.80L375.30,641.20M381.50,628.80L381.50,641.20" stroke="#000" stroke-width="1.30"/>
<path d="M414.60,620.20L427.00,632.60M427.00,620.20L414.60,632.60M420.80,620.20L420.80,632.60" stroke="#000" stroke-width="1.30"/>
<path d="M454.40,614.35L466.80,626.75M466.80,614.35L454.40,626.75M460.60,614.35L460.60,626.75" stroke="#000" stroke-width="1.30"/>
<path d="M494.00,615.04L506.40,627.44M506.40,615.04L494.00,627.44M500.20,615.04L500.20,627.44" stroke="#000" stroke-width="1.30"/>
<rect x="376.15" y="629.65" width="10.70" height="10.70" fill="#000"/><path d="M377.75,631.25L385.25,638.75M385.25,631.25L377.75,638.75" stroke="#fff" stroke-width="1.40"/>
<rect x="415.45" y="542.27" width="10.70" height="10.70" fill="#000"/><path d="M417.05,543.87L424.55,551.37M424.55,543.87L417.05,551.37" stroke="#fff" stroke-width="1.40"/>
<rect x="455.25" y="540.21" width="10.70" height="10.70" fill="#000"/><path d="M456.85,541.81L464.35,549.31M464.35,541.81L456.85,549.31" stroke="#fff" stroke-width="1.40"/>
<rect x="494.85" y="546.40" width="10.70" height="10.70" fill="#000"/><path d="M496.45,548.00L503.95,555.50M503.95,548.00L496.45,555.50" stroke="#fff" stroke-width="1.40"/>
<rect x="376.15" y="629.65" width="10.70" height="10.70" fill="#000"/>
<rect x="415.45" y="496.18" width="10.70" height="10.70" fill="#000"/>
<rect x="455.25" y="485.17" width="10.70" height="10.70" fill="#000"/>
<rect x="494.85" y="486.55" width="10.70" height="10.70" fill="#000"/>
<text x="386.90" y="645.5" font-size="12.3" font-weight="normal" text-anchor="end" font-family='"Liberation Sans", sans-serif' transform="rotate(-90 386.90 645.5)">1:0</text>
<text x="426.20" y="645.5" font-size="12.3" font-weight="normal" text-anchor="end" font-family='"Liberation Sans", sans-serif' transform="rotate(-90 426.20 645.5)">1:1</text>
<text x="466.00" y="645.5" font-size="12.3" font-weight="normal" text-anchor="end" font-family='"Liberation Sans", sans-serif' transform="rotate(-90 466.00 645.5)">1:2</text>
<text x="505.60" y="645.5" font-size="12.3" font-weight="normal" text-anchor="end" font-family='"Liberation Sans", sans-serif' transform="rotate(-90 505.60 645.5)">1:5</text>
<text x="376.4" y="679" font-size="14.2" font-weight="bold" text-anchor="start" font-family='"Liberation Sans", sans-serif'>effector-target ratio</text>
<text x="311.2" y="628.8" font-size="14.6" font-weight="bold" text-anchor="start" font-family='"Liberation Sans", sans-serif' transform="rotate(-90 311.2 628.8)">CD 107a</text>
<text x="311.2" y="559.0" font-size="14.6" font-weight="bold" text-anchor="start" font-family='"Liberation Sans", sans-serif' transform="rotate(-90 311.2 559.0)">posit. NKcells</text>
<text x="329.9" y="558.6" font-size="14.5" font-weight="normal" text-anchor="start" font-family='"Liberation Sans", sans-serif' transform="rotate(-90 329.9 558.6)">[%]</text>
<polyline points="45.30,655.40 92.10,655.40" fill="none" stroke="#000" stroke-width="1.4" stroke-linejoin="round"/>
<circle cx="67.70" cy="655.40" r="2.5" fill="#000"/>
<text x="94.0" y="658.70" font-size="10" font-weight="normal" text-anchor="start" font-family='"Liberation Serif", serif' letter-spacing="0.2">Pt.l4 B-CLL</text>
<polyline points="45.30,671.20 92.10,671.20" fill="none" stroke="#000" stroke-width="1.4" stroke-linejoin="round"/>
<path d="M64.80,668.30L70.60,674.10M70.60,668.30L64.80,674.10M67.70,668.30L67.70,674.10" stroke="#000" stroke-width="1.6"/>
<text x="94.0" y="674.50" font-size="10" font-weight="normal" text-anchor="start" font-family='"Liberation Serif", serif' letter-spacing="0.2">Pt.3 B-DLCL</text>
<polyline points="170.30,655.20 215.80,655.20" fill="none" stroke="#000" stroke-width="1.4" stroke-linejoin="round"/>
<polygon points="192.05,652.00 194.85,656.80 189.25,656.80" fill="#fff" stroke="#000" stroke-width="1.5"/>
<text x="216.6" y="658.50" font-size="10" font-weight="normal" text-anchor="start" font-family='"Liberation Serif", serif' letter-spacing="0.2">Pt.l3 B-CLL</text>
<polyline points="170.30,671.40 215.80,671.40" fill="none" stroke="#000" stroke-width="1.4" stroke-linejoin="round"/>
<rect x="188.65" y="668.00" width="6.80" height="6.80" fill="#000"/><path d="M190.05,669.40L194.05,673.40M194.05,669.40L190.05,673.40" stroke="#fff" stroke-width="1.2"/>
<text x="216.6" y="674.70" font-size="10" font-weight="normal" text-anchor="start" font-family='"Liberation Serif", serif' letter-spacing="0.2">Pt.5 T-NHL</text>
<g stroke="#000" stroke-width="3.2"><line x1="45.8" y1="687.3" x2="50.6" y2="687.3"/><line x1="60.1" y1="687.3" x2="79.4" y2="687.3"/><line x1="89.2" y1="687.3" x2="91.9" y2="687.3"/></g>
<rect x="65.4" y="683.6" width="8.3" height="8.0" fill="#000"/>
<text x="93.4" y="690.8" font-size="10" font-weight="normal" text-anchor="start" font-family='"Liberation Serif", serif' letter-spacing="0.4">K 562</text>
<text x="0.5" y="727.1" font-size="32" font-weight="bold" text-anchor="start" font-family='"Liberation Sans", sans-serif'>C</text>
<line x1="60.80" y1="821.58" x2="194.6" y2="821.58" stroke="#c0c0c0" stroke-width="1.3" stroke-dasharray="4.2 3.6"/>
<line x1="60.80" y1="797.16" x2="194.6" y2="797.16" stroke="#c0c0c0" stroke-width="1.3" stroke-dasharray="4.2 3.6"/>
<line x1="60.80" y1="772.74" x2="194.6" y2="772.74" stroke="#c0c0c0" stroke-width="1.3" stroke-dasharray="4.2 3.6"/>
<line x1="60.80" y1="748.32" x2="194.6" y2="748.32" stroke="#c0c0c0" stroke-width="1.3" stroke-dasharray="4.2 3.6"/>
<rect x="64.8" y="736.2" width="129.8" height="109.79999999999995" fill="none" stroke="#000" stroke-width="1.6"/>
<text x="55.30" y="850.10" font-size="13.5" font-weight="normal" text-anchor="end" font-family='"Liberation Sans", sans-serif'>0</text>
<text x="55.30" y="825.68" font-size="13.5" font-weight="normal" text-anchor="end" font-family='"Liberation Sans", sans-serif'>20</text>
<text x="55.30" y="801.26" font-size="13.5" font-weight="normal" text-anchor="end" font-family='"Liberation Sans", sans-serif'>40</text>
<text x="55.30" y="776.84" font-size="13.5" font-weight="normal" text-anchor="end" font-family='"Liberation Sans", sans-serif'>60</text>
<text x="55.30" y="752.42" font-size="13.5" font-weight="normal" text-anchor="end" font-family='"Liberation Sans", sans-serif'>80</text>
<polyline points="78.30,846.00 103.90,829.03 130.00,820.36 156.90,811.57 182.50,813.77" fill="none" stroke="#000" stroke-width="2.7" stroke-linejoin="round"/>
<polyline points="78.30,846.00 103.90,846.00 130.00,846.00 156.90,846.00 182.50,844.78" fill="none" stroke="#000" stroke-width="2.7" stroke-linejoin="round"/>
<polygon points="78.30,840.60 83.90,846.00 78.30,851.40 72.70,846.00" fill="#000"/>
<polygon points="103.90,823.63 109.50,829.03 103.90,834.43 98.30,829.03" fill="#000"/>
<polygon points="130.00,814.96 135.60,820.36 130.00,825.76 124.40,820.36" fill="#000"/>
<polygon points="156.90,806.17 162.50,811.57 156.90,816.97 151.30,811.57" fill="#000"/>
<polygon points="182.50,808.37 188.10,813.77 182.50,819.17 176.90,813.77" fill="#000"/>
<polygon points="78.30,841.50 82.70,846.00 78.30,850.50 73.90,846.00" fill="#fff" stroke="#000" stroke-width="1.7"/>
<polygon points="103.90,841.50 108.30,846.00 103.90,850.50 99.50,846.00" fill="#fff" stroke="#000" stroke-width="1.7"/>
<polygon points="130.00,841.50 134.40,846.00 130.00,850.50 125.60,846.00" fill="#fff" stroke="#000" stroke-width="1.7"/>
<polygon points="156.90,841.50 161.30,846.00 156.90,850.50 152.50,846.00" fill="#fff" stroke="#000" stroke-width="1.7"/>
<polygon points="182.50,840.28 186.90,844.78 182.50,849.28 178.10,844.78" fill="#fff" stroke="#000" stroke-width="1.7"/>
<text x="88.9" y="729.9" font-size="13.5" font-weight="bold" text-anchor="start" font-family='"Liberation Sans", sans-serif'>Pt.14</text>
<text x="131.7" y="729.9" font-size="13.5" font-weight="bold" text-anchor="start" font-family='"Liberation Sans", sans-serif' letter-spacing="-0.3">B-CLL</text>
<text x="82.70" y="858.8000000000001" font-size="12.3" font-weight="normal" text-anchor="end" font-family='"Liberation Sans", sans-serif' transform="rotate(-90 82.70 858.8000000000001)">0:1</text>
<text x="108.30" y="858.8000000000001" font-size="12.3" font-weight="normal" text-anchor="end" font-family='"Liberation Sans", sans-serif' transform="rotate(-90 108.30 858.8000000000001)">2:1</text>
<text x="134.40" y="858.8000000000001" font-size="12.3" font-weight="normal" text-anchor="end" font-family='"Liberation Sans", sans-serif' transform="rotate(-90 134.40 858.8000000000001)">5:1</text>
<text x="161.30" y="858.8000000000001" font-size="12.3" font-weight="normal" text-anchor="end" font-family='"Liberation Sans", sans-serif' transform="rotate(-90 161.30 858.8000000000001)">10:1</text>
<text x="186.90" y="858.8000000000001" font-size="12.3" font-weight="normal" text-anchor="end" font-family='"Liberation Sans", sans-serif' transform="rotate(-90 186.90 858.8000000000001)">20:1</text>
<line x1="226.50" y1="822.48" x2="357.9" y2="822.48" stroke="#c0c0c0" stroke-width="1.3" stroke-dasharray="4.2 3.6"/>
<line x1="226.50" y1="797.76" x2="357.9" y2="797.76" stroke="#c0c0c0" stroke-width="1.3" stroke-dasharray="4.2 3.6"/>
<line x1="226.50" y1="773.04" x2="357.9" y2="773.04" stroke="#c0c0c0" stroke-width="1.3" stroke-dasharray="4.2 3.6"/>
<line x1="226.50" y1="748.32" x2="357.9" y2="748.32" stroke="#c0c0c0" stroke-width="1.3" stroke-dasharray="4.2 3.6"/>
<rect x="230.5" y="735.6" width="127.39999999999998" height="111.60000000000002" fill="none" stroke="#000" stroke-width="1.6"/>
<text x="221.00" y="851.30" font-size="13.5" font-weight="normal" text-anchor="end" font-family='"Liberation Sans", sans-serif'>0</text>
<text x="221.00" y="826.58" font-size="13.5" font-weight="normal" text-anchor="end" font-family='"Liberation Sans", sans-serif'>20</text>
<text x="221.00" y="801.86" font-size="13.5" font-weight="normal" text-anchor="end" font-family='"Liberation Sans", sans-serif'>40</text>
<text x="221.00" y="777.14" font-size="13.5" font-weight="normal" text-anchor="end" font-family='"Liberation Sans", sans-serif'>60</text>
<text x="221.00" y="752.42" font-size="13.5" font-weight="normal" text-anchor="end" font-family='"Liberation Sans", sans-serif'>80</text>
<polyline points="244.30,847.20 269.60,837.31 294.90,832.37 320.50,824.95 345.80,815.06" fill="none" stroke="#000" stroke-width="2.7" stroke-linejoin="round"/>
<polyline points="244.30,847.20 269.60,847.20 294.90,847.20 320.50,847.20 345.80,843.49" fill="none" stroke="#000" stroke-width="2.7" stroke-linejoin="round"/>
<polygon points="244.30,841.80 249.90,847.20 244.30,852.60 238.70,847.20" fill="#000"/>
<polygon points="269.60,831.91 275.20,837.31 269.60,842.71 264.00,837.31" fill="#000"/>
<polygon points="294.90,826.97 300.50,832.37 294.90,837.77 289.30,832.37" fill="#000"/>
<polygon points="320.50,819.55 326.10,824.95 320.50,830.35 314.90,824.95" fill="#000"/>
<polygon points="345.80,809.66 351.40,815.06 345.80,820.46 340.20,815.06" fill="#000"/>
<polygon points="244.30,842.70 248.70,847.20 244.30,851.70 239.90,847.20" fill="#fff" stroke="#000" stroke-width="1.7"/>
<polygon points="269.60,842.70 274.00,847.20 269.60,851.70 265.20,847.20" fill="#fff" stroke="#000" stroke-width="1.7"/>
<polygon points="294.90,842.70 299.30,847.20 294.90,851.70 290.50,847.20" fill="#fff" stroke="#000" stroke-width="1.7"/>
<polygon points="320.50,842.70 324.90,847.20 320.50,851.70 316.10,847.20" fill="#fff" stroke="#000" stroke-width="1.7"/>
<polygon points="345.80,838.99 350.20,843.49 345.80,847.99 341.40,843.49" fill="#fff" stroke="#000" stroke-width="1.7"/>
<text x="256.4" y="729.4" font-size="13.5" font-weight="bold" text-anchor="start" font-family='"Liberation Sans", sans-serif'>Pt.13</text>
<text x="294.9" y="729.4" font-size="13.5" font-weight="bold" text-anchor="start" font-family='"Liberation Sans", sans-serif'>B-CLL</text>
<text x="248.70" y="858.8000000000001" font-size="12.3" font-weight="normal" text-anchor="end" font-family='"Liberation Sans", sans-serif' transform="rotate(-90 248.70 858.8000000000001)">0:1</text>
<text x="274.00" y="858.8000000000001" font-size="12.3" font-weight="normal" text-anchor="end" font-family='"Liberation Sans", sans-serif' transform="rotate(-90 274.00 858.8000000000001)">2:1</text>
<text x="299.30" y="858.8000000000001" font-size="12.3" font-weight="normal" text-anchor="end" font-family='"Liberation Sans", sans-serif' transform="rotate(-90 299.30 858.8000000000001)">5:1</text>
<text x="324.90" y="858.8000000000001" font-size="12.3" font-weight="normal" text-anchor="end" font-family='"Liberation Sans", sans-serif' transform="rotate(-90 324.90 858.8000000000001)">10:1</text>
<text x="350.20" y="858.8000000000001" font-size="12.3" font-weight="normal" text-anchor="end" font-family='"Liberation Sans", sans-serif' transform="rotate(-90 350.20 858.8000000000001)">20:1</text>
<line x1="385.20" y1="823.75" x2="517.2" y2="823.75" stroke="#c0c0c0" stroke-width="1.3" stroke-dasharray="4.2 3.6"/>
<line x1="385.20" y1="799.00" x2="517.2" y2="799.00" stroke="#c0c0c0" stroke-width="1.3" stroke-dasharray="4.2 3.6"/>
<line x1="385.20" y1="774.25" x2="517.2" y2="774.25" stroke="#c0c0c0" stroke-width="1.3" stroke-dasharray="4.2 3.6"/>
<line x1="385.20" y1="749.50" x2="517.2" y2="749.50" stroke="#c0c0c0" stroke-width="1.3" stroke-dasharray="4.2 3.6"/>
<rect x="389.2" y="736.8" width="128.00000000000006" height="111.70000000000005" fill="none" stroke="#000" stroke-width="1.6"/>
<text x="379.70" y="852.60" font-size="13.5" font-weight="normal" text-anchor="end" font-family='"Liberation Sans", sans-serif'>0</text>
<text x="379.70" y="827.85" font-size="13.5" font-weight="normal" text-anchor="end" font-family='"Liberation Sans", sans-serif'>20</text>
<text x="379.70" y="803.10" font-size="13.5" font-weight="normal" text-anchor="end" font-family='"Liberation Sans", sans-serif'>40</text>
<text x="379.70" y="778.35" font-size="13.5" font-weight="normal" text-anchor="end" font-family='"Liberation Sans", sans-serif'>60</text>
<text x="379.70" y="753.60" font-size="13.5" font-weight="normal" text-anchor="end" font-family='"Liberation Sans", sans-serif'>80</text>
<polyline points="403.00,848.50 427.80,836.99 453.30,825.36 479.10,821.40 504.30,817.81" fill="none" stroke="#000" stroke-width="2.7" stroke-linejoin="round"/>
<polyline points="403.00,848.50 427.80,848.50 453.30,848.50 479.10,846.02 504.30,846.02" fill="none" stroke="#000" stroke-width="2.7" stroke-linejoin="round"/>
<polygon points="403.00,843.10 408.60,848.50 403.00,853.90 397.40,848.50" fill="#000"/>
<polygon points="427.80,831.59 433.40,836.99 427.80,842.39 422.20,836.99" fill="#000"/>
<polygon points="453.30,819.96 458.90,825.36 453.30,830.76 447.70,825.36" fill="#000"/>
<polygon points="479.10,816.00 484.70,821.40 479.10,826.80 473.50,821.40" fill="#000"/>
<polygon points="504.30,812.41 509.90,817.81 504.30,823.21 498.70,817.81" fill="#000"/>
<polygon points="403.00,844.00 407.40,848.50 403.00,853.00 398.60,848.50" fill="#fff" stroke="#000" stroke-width="1.7"/>
<polygon points="427.80,844.00 432.20,848.50 427.80,853.00 423.40,848.50" fill="#fff" stroke="#000" stroke-width="1.7"/>
<polygon points="453.30,844.00 457.70,848.50 453.30,853.00 448.90,848.50" fill="#fff" stroke="#000" stroke-width="1.7"/>
<polygon points="479.10,841.52 483.50,846.02 479.10,850.52 474.70,846.02" fill="#fff" stroke="#000" stroke-width="1.7"/>
<polygon points="504.30,841.52 508.70,846.02 504.30,850.52 499.90,846.02" fill="#fff" stroke="#000" stroke-width="1.7"/>
<text x="411.8" y="730.8" font-size="13.5" font-weight="bold" text-anchor="start" font-family='"Liberation Sans", sans-serif'>Pt.6</text>
<text x="446.5" y="730.8" font-size="13.5" font-weight="bold" text-anchor="start" font-family='"Liberation Sans", sans-serif'>Foll.</text>
<text x="476.4" y="730.8" font-size="13.5" font-weight="bold" text-anchor="start" font-family='"Liberation Sans", sans-serif' letter-spacing="-1.2">NHL</text>
<text x="407.40" y="858.8000000000001" font-size="12.3" font-weight="normal" text-anchor="end" font-family='"Liberation Sans", sans-serif' transform="rotate(-90 407.40 858.8000000000001)">0:1</text>
<text x="432.20" y="858.8000000000001" font-size="12.3" font-weight="normal" text-anchor="end" font-family='"Liberation Sans", sans-serif' transform="rotate(-90 432.20 858.8000000000001)">2:1</text>
<text x="457.70" y="858.8000000000001" font-size="12.3" font-weight="normal" text-anchor="end" font-family='"Liberation Sans", sans-serif' transform="rotate(-90 457.70 858.8000000000001)">5:1</text>
<text x="483.50" y="858.8000000000001" font-size="12.3" font-weight="normal" text-anchor="end" font-family='"Liberation Sans", sans-serif' transform="rotate(-90 483.50 858.8000000000001)">10:1</text>
<text x="508.70" y="858.8000000000001" font-size="12.3" font-weight="normal" text-anchor="end" font-family='"Liberation Sans", sans-serif' transform="rotate(-90 508.70 858.8000000000001)">20:1</text>
<line x1="61.40" y1="1008.30" x2="194" y2="1008.30" stroke="#c0c0c0" stroke-width="1.3" stroke-dasharray="4.2 3.6"/>
<line x1="61.40" y1="982.80" x2="194" y2="982.80" stroke="#c0c0c0" stroke-width="1.3" stroke-dasharray="4.2 3.6"/>
<line x1="61.40" y1="957.30" x2="194" y2="957.30" stroke="#c0c0c0" stroke-width="1.3" stroke-dasharray="4.2 3.6"/>
<line x1="61.40" y1="931.80" x2="194" y2="931.80" stroke="#c0c0c0" stroke-width="1.3" stroke-dasharray="4.2 3.6"/>
<rect x="65.4" y="919.6" width="128.6" height="114.19999999999993" fill="none" stroke="#000" stroke-width="1.6"/>
<text x="55.90" y="1037.90" font-size="13.5" font-weight="normal" text-anchor="end" font-family='"Liberation Sans", sans-serif'>0</text>
<text x="55.90" y="1012.40" font-size="13.5" font-weight="normal" text-anchor="end" font-family='"Liberation Sans", sans-serif'>20</text>
<text x="55.90" y="986.90" font-size="13.5" font-weight="normal" text-anchor="end" font-family='"Liberation Sans", sans-serif'>40</text>
<text x="55.90" y="961.40" font-size="13.5" font-weight="normal" text-anchor="end" font-family='"Liberation Sans", sans-serif'>60</text>
<text x="55.90" y="935.90" font-size="13.5" font-weight="normal" text-anchor="end" font-family='"Liberation Sans", sans-serif'>80</text>
<polyline points="78.80,1033.80 103.80,992.75 130.80,977.32 155.80,969.67 180.80,956.15" fill="none" stroke="#000" stroke-width="2.7" stroke-linejoin="round"/>
<polyline points="78.80,1033.80 103.80,1031.25 130.80,1032.52 155.80,1029.97 180.80,1027.42" fill="none" stroke="#000" stroke-width="2.7" stroke-linejoin="round"/>
<polygon points="78.80,1028.40 84.40,1033.80 78.80,1039.20 73.20,1033.80" fill="#000"/>
<polygon points="103.80,987.35 109.40,992.75 103.80,998.14 98.20,992.75" fill="#000"/>
<polygon points="130.80,971.92 136.40,977.32 130.80,982.72 125.20,977.32" fill="#000"/>
<polygon points="155.80,964.27 161.40,969.67 155.80,975.07 150.20,969.67" fill="#000"/>
<polygon points="180.80,950.75 186.40,956.15 180.80,961.55 175.20,956.15" fill="#000"/>
<polygon points="78.80,1029.30 83.20,1033.80 78.80,1038.30 74.40,1033.80" fill="#fff" stroke="#000" stroke-width="1.7"/>
<polygon points="103.80,1026.75 108.20,1031.25 103.80,1035.75 99.40,1031.25" fill="#fff" stroke="#000" stroke-width="1.7"/>
<polygon points="130.80,1028.02 135.20,1032.52 130.80,1037.02 126.40,1032.52" fill="#fff" stroke="#000" stroke-width="1.7"/>
<polygon points="155.80,1025.47 160.20,1029.97 155.80,1034.47 151.40,1029.97" fill="#fff" stroke="#000" stroke-width="1.7"/>
<polygon points="180.80,1022.92 185.20,1027.42 180.80,1031.92 176.40,1027.42" fill="#fff" stroke="#000" stroke-width="1.7"/>
<text x="92.9" y="912.9" font-size="13.5" font-weight="bold" text-anchor="start" font-family='"Liberation Sans", sans-serif'>Pt.3</text>
<text x="125.1" y="912.9" font-size="13.5" font-weight="bold" text-anchor="start" font-family='"Liberation Sans", sans-serif' letter-spacing="-0.7">B-DLCL</text>
<text x="83.20" y="1043.1000000000001" font-size="12.3" font-weight="normal" text-anchor="end" font-family='"Liberation Sans", sans-serif' transform="rotate(-90 83.20 1043.1000000000001)">0:1</text>
<text x="108.20" y="1043.1000000000001" font-size="12.3" font-weight="normal" text-anchor="end" font-family='"Liberation Sans", sans-serif' transform="rotate(-90 108.20 1043.1000000000001)">2:1</text>
<text x="135.20" y="1043.1000000000001" font-size="12.3" font-weight="normal" text-anchor="end" font-family='"Liberation Sans", sans-serif' transform="rotate(-90 135.20 1043.1000000000001)">5:1</text>
<text x="160.20" y="1043.1000000000001" font-size="12.3" font-weight="normal" text-anchor="end" font-family='"Liberation Sans", sans-serif' transform="rotate(-90 160.20 1043.1000000000001)">10:1</text>
<text x="185.20" y="1043.1000000000001" font-size="12.3" font-weight="normal" text-anchor="end" font-family='"Liberation Sans", sans-serif' transform="rotate(-90 185.20 1043.1000000000001)">20:1</text>
<line x1="222.30" y1="1007.20" x2="357.9" y2="1007.20" stroke="#c0c0c0" stroke-width="1.3" stroke-dasharray="4.2 3.6"/>
<line x1="222.30" y1="981.80" x2="357.9" y2="981.80" stroke="#c0c0c0" stroke-width="1.3" stroke-dasharray="4.2 3.6"/>
<line x1="222.30" y1="956.40" x2="357.9" y2="956.40" stroke="#c0c0c0" stroke-width="1.3" stroke-dasharray="4.2 3.6"/>
<line x1="222.30" y1="931.00" x2="357.9" y2="931.00" stroke="#c0c0c0" stroke-width="1.3" stroke-dasharray="4.2 3.6"/>
<rect x="226.3" y="919.4" width="131.59999999999997" height="113.19999999999993" fill="none" stroke="#000" stroke-width="1.6"/>
<text x="216.80" y="1036.70" font-size="13.5" font-weight="normal" text-anchor="end" font-family='"Liberation Sans", sans-serif'>0</text>
<text x="216.80" y="1011.30" font-size="13.5" font-weight="normal" text-anchor="end" font-family='"Liberation Sans", sans-serif'>20</text>
<text x="216.80" y="985.90" font-size="13.5" font-weight="normal" text-anchor="end" font-family='"Liberation Sans", sans-serif'>40</text>
<text x="216.80" y="960.50" font-size="13.5" font-weight="normal" text-anchor="end" font-family='"Liberation Sans", sans-serif'>60</text>
<text x="216.80" y="935.10" font-size="13.5" font-weight="normal" text-anchor="end" font-family='"Liberation Sans", sans-serif'>80</text>
<polyline points="239.50,1032.60 266.20,960.34 292.10,948.14 318.10,932.65 344.70,919.44" fill="none" stroke="#000" stroke-width="2.7" stroke-linejoin="round"/>
<polyline points="239.50,1032.60 266.20,1026.76 292.10,1025.74 318.10,1024.34 344.70,1022.57" fill="none" stroke="#000" stroke-width="2.7" stroke-linejoin="round"/>
<polygon points="239.50,1027.20 245.10,1032.60 239.50,1038.00 233.90,1032.60" fill="#000"/>
<polygon points="266.20,954.94 271.80,960.34 266.20,965.74 260.60,960.34" fill="#000"/>
<polygon points="292.10,942.74 297.70,948.14 292.10,953.54 286.50,948.14" fill="#000"/>
<polygon points="318.10,927.25 323.70,932.65 318.10,938.05 312.50,932.65" fill="#000"/>
<polygon points="344.70,914.04 350.30,919.44 344.70,924.84 339.10,919.44" fill="#000"/>
<polygon points="239.50,1028.10 243.90,1032.60 239.50,1037.10 235.10,1032.60" fill="#fff" stroke="#000" stroke-width="1.7"/>
<polygon points="266.20,1022.26 270.60,1026.76 266.20,1031.26 261.80,1026.76" fill="#fff" stroke="#000" stroke-width="1.7"/>
<polygon points="292.10,1021.24 296.50,1025.74 292.10,1030.24 287.70,1025.74" fill="#fff" stroke="#000" stroke-width="1.7"/>
<polygon points="318.10,1019.84 322.50,1024.34 318.10,1028.84 313.70,1024.34" fill="#fff" stroke="#000" stroke-width="1.7"/>
<polygon points="344.70,1018.07 349.10,1022.57 344.70,1027.07 340.30,1022.57" fill="#fff" stroke="#000" stroke-width="1.7"/>
<text x="256.0" y="912.0" font-size="13.5" font-weight="bold" text-anchor="start" font-family='"Liberation Sans", sans-serif'>Pt.5</text>
<text x="291.3" y="912.0" font-size="13.5" font-weight="bold" text-anchor="start" font-family='"Liberation Sans", sans-serif' letter-spacing="-0.3">T-NHL</text>
<text x="243.90" y="1043.1000000000001" font-size="12.3" font-weight="normal" text-anchor="end" font-family='"Liberation Sans", sans-serif' transform="rotate(-90 243.90 1043.1000000000001)">0:1</text>
<text x="270.60" y="1043.1000000000001" font-size="12.3" font-weight="normal" text-anchor="end" font-family='"Liberation Sans", sans-serif' transform="rotate(-90 270.60 1043.1000000000001)">2:1</text>
<text x="296.50" y="1043.1000000000001" font-size="12.3" font-weight="normal" text-anchor="end" font-family='"Liberation Sans", sans-serif' transform="rotate(-90 296.50 1043.1000000000001)">5:1</text>
<text x="322.50" y="1043.1000000000001" font-size="12.3" font-weight="normal" text-anchor="end" font-family='"Liberation Sans", sans-serif' transform="rotate(-90 322.50 1043.1000000000001)">10:1</text>
<text x="349.10" y="1043.1000000000001" font-size="12.3" font-weight="normal" text-anchor="end" font-family='"Liberation Sans", sans-serif' transform="rotate(-90 349.10 1043.1000000000001)">20:1</text>
<line x1="387.90" y1="1008.30" x2="518.7" y2="1008.30" stroke="#c0c0c0" stroke-width="1.3" stroke-dasharray="4.2 3.6"/>
<line x1="387.90" y1="982.90" x2="518.7" y2="982.90" stroke="#c0c0c0" stroke-width="1.3" stroke-dasharray="4.2 3.6"/>
<line x1="387.90" y1="957.50" x2="518.7" y2="957.50" stroke="#c0c0c0" stroke-width="1.3" stroke-dasharray="4.2 3.6"/>
<line x1="387.90" y1="932.10" x2="518.7" y2="932.10" stroke="#c0c0c0" stroke-width="1.3" stroke-dasharray="4.2 3.6"/>
<rect x="391.9" y="919.4" width="126.80000000000007" height="114.30000000000007" fill="none" stroke="#000" stroke-width="1.6"/>
<text x="382.40" y="1037.80" font-size="13.5" font-weight="normal" text-anchor="end" font-family='"Liberation Sans", sans-serif'>0</text>
<text x="382.40" y="1012.40" font-size="13.5" font-weight="normal" text-anchor="end" font-family='"Liberation Sans", sans-serif'>20</text>
<text x="382.40" y="987.00" font-size="13.5" font-weight="normal" text-anchor="end" font-family='"Liberation Sans", sans-serif'>40</text>
<text x="382.40" y="961.60" font-size="13.5" font-weight="normal" text-anchor="end" font-family='"Liberation Sans", sans-serif'>60</text>
<text x="382.40" y="936.20" font-size="13.5" font-weight="normal" text-anchor="end" font-family='"Liberation Sans", sans-serif'>80</text>
<polyline points="404.60,1033.70 430.70,955.34 456.20,938.20 481.40,936.16 506.90,932.86" fill="none" stroke="#000" stroke-width="2.7" stroke-linejoin="round"/>
<polyline points="404.60,1033.70 430.70,1028.49 456.20,1023.79 481.40,1010.33 506.90,984.93" fill="none" stroke="#000" stroke-width="2.7" stroke-linejoin="round"/>
<polygon points="404.60,1028.30 410.20,1033.70 404.60,1039.10 399.00,1033.70" fill="#000"/>
<polygon points="430.70,949.94 436.30,955.34 430.70,960.74 425.10,955.34" fill="#000"/>
<polygon points="456.20,932.80 461.80,938.20 456.20,943.60 450.60,938.20" fill="#000"/>
<polygon points="481.40,930.76 487.00,936.16 481.40,941.56 475.80,936.16" fill="#000"/>
<polygon points="506.90,927.46 512.50,932.86 506.90,938.26 501.30,932.86" fill="#000"/>
<polygon points="404.60,1029.20 409.00,1033.70 404.60,1038.20 400.20,1033.70" fill="#fff" stroke="#000" stroke-width="1.7"/>
<polygon points="430.70,1023.99 435.10,1028.49 430.70,1032.99 426.30,1028.49" fill="#fff" stroke="#000" stroke-width="1.7"/>
<polygon points="456.20,1019.29 460.60,1023.79 456.20,1028.29 451.80,1023.79" fill="#fff" stroke="#000" stroke-width="1.7"/>
<polygon points="481.40,1005.83 485.80,1010.33 481.40,1014.83 477.00,1010.33" fill="#fff" stroke="#000" stroke-width="1.7"/>
<polygon points="506.90,980.43 511.30,984.93 506.90,989.43 502.50,984.93" fill="#fff" stroke="#000" stroke-width="1.7"/>
<text x="440.1" y="911.4" font-size="13.5" font-weight="bold" text-anchor="start" font-family='"Liberation Sans", sans-serif'>K</text>
<text x="451.8" y="911.4" font-size="13.5" font-weight="bold" text-anchor="start" font-family='"Liberation Sans", sans-serif'>562</text>
<text x="409.00" y="1043.1000000000001" font-size="12.3" font-weight="normal" text-anchor="end" font-family='"Liberation Sans", sans-serif' transform="rotate(-90 409.00 1043.1000000000001)">0:1</text>
<text x="435.10" y="1043.1000000000001" font-size="12.3" font-weight="normal" text-anchor="end" font-family='"Liberation Sans", sans-serif' transform="rotate(-90 435.10 1043.1000000000001)">2:1</text>
<text x="460.60" y="1043.1000000000001" font-size="12.3" font-weight="normal" text-anchor="end" font-family='"Liberation Sans", sans-serif' transform="rotate(-90 460.60 1043.1000000000001)">5:1</text>
<text x="485.80" y="1043.1000000000001" font-size="12.3" font-weight="normal" text-anchor="end" font-family='"Liberation Sans", sans-serif' transform="rotate(-90 485.80 1043.1000000000001)">10:1</text>
<text x="511.30" y="1043.1000000000001" font-size="12.3" font-weight="normal" text-anchor="end" font-family='"Liberation Sans", sans-serif' transform="rotate(-90 511.30 1043.1000000000001)">20:1</text>
<line x1="28.6" y1="755" x2="28.6" y2="1076.3" stroke="#000" stroke-width="2"/>
<polygon points="28.6,738 24.6,757.5 32.6,757.5" fill="#000"/>
<line x1="27.6" y1="1076" x2="500" y2="1076" stroke="#000" stroke-width="2"/>
<polygon points="513.3,1076 493,1071.6 493,1080.4" fill="#000"/>
<text x="16.4" y="1004.3" font-size="19.7" font-weight="bold" text-anchor="start" font-family='"Liberation Sans", sans-serif' transform="rotate(-90 16.4 1004.3)">specific cytolysis [ % ]</text>
<text x="167.00" y="1102.0" font-size="19.4" font-weight="bold" text-anchor="start" font-family='"Liberation Sans", sans-serif'>[</text>
<text x="179.00" y="1102.0" font-size="19.4" font-weight="bold" text-anchor="start" font-family='"Liberation Sans", sans-serif' letter-spacing="0.25">effector</text>
<text x="251.40" y="1102.0" font-size="19.4" font-weight="bold" text-anchor="start" font-family='"Liberation Sans", sans-serif'>-</text>
<text x="258.40" y="1102.0" font-size="19.4" font-weight="bold" text-anchor="start" font-family='"Liberation Sans", sans-serif' letter-spacing="-0.5">target</text>
<text x="318.60" y="1102.0" font-size="19.4" font-weight="bold" text-anchor="start" font-family='"Liberation Sans", sans-serif'>]</text>
<text x="335.60" y="1102.0" font-size="19.4" font-weight="bold" text-anchor="start" font-family='"Liberation Sans", sans-serif'>ratio</text>
</svg></body></html>
